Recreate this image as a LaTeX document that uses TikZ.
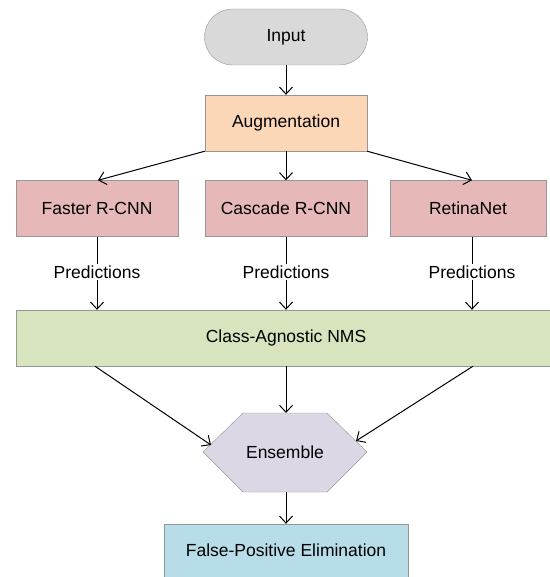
\documentclass[tikz,border=0pt]{standalone}
\usepackage{fontspec}
\setmainfont{Liberation Sans}
\usetikzlibrary{arrows.meta}
\definecolor{inputgray}{HTML}{D9D9D9}
\definecolor{augpeach}{HTML}{FBD6B7}
\definecolor{modelred}{HTML}{E6B9B8}
\definecolor{nmsgreen}{HTML}{D7E4BD}
\definecolor{enspurple}{HTML}{DCD7E5}
\definecolor{fpblue}{HTML}{B7DDE8}
\definecolor{edgegray}{HTML}{969696}
\begin{document}
\begin{tikzpicture}[x=1pt, y=-1pt,
        every node/.style={font=\fontsize{17.5}{20}\selectfont},
        stepbox/.style={rectangle, draw=edgegray, inner sep=0pt, minimum height=56pt},
        model/.style={stepbox, fill=modelred, minimum width=162pt},
        plain/.style={inner sep=1pt},
        arrow/.style={-{Straight Barb[length=7pt, width=13pt]}, line width=1pt},
        link/.style={line width=1pt}
    ]
        \useasboundingbox (0,0) rectangle (549,577);

        % Input and augmentation
        \node[stepbox, fill=inputgray, rounded corners=28pt, minimum width=163pt] (input) at (286,37) {Input};
        \node[stepbox, fill=augpeach, minimum width=162pt] (aug) at (286,123) {Augmentation};

        % Detectors
        \node[model] (faster) at (97,208.5) {Faster R-CNN};
        \node[model] (cascade) at (286,208.5) {Cascade R-CNN};
        \node[model, minimum width=156pt] (retina) at (468,208.5) {RetinaNet};

        % Predictions
        \node[plain] (pf) at (97,272) {Predictions};
        \node[plain] (pc) at (286,272) {Predictions};
        \node[plain] (pr) at (472,272) {Predictions};

        % NMS
        \node[stepbox, fill=nmsgreen, minimum width=560pt, anchor=west] (nms) at (16,338) {};
        \node (nmstext) at (286,338) {Class-Agnostic NMS};

        % Ensemble
        \draw[draw=edgegray, fill=enspurple] (203,452) -- (243,413) -- (327,413) -- (367,452) -- (327,492) -- (243,492) -- cycle;
        \node (ens) at (285,452) {Ensemble};
        \coordinate (enstop) at (286,413);
        \coordinate (ensleft) at (211,445);
        \coordinate (ensright) at (356,441);
        \coordinate (ensbottom) at (286,492);

        % False positives
        \node[stepbox, fill=fpblue, minimum width=244pt, minimum height=60pt] (fp) at (286,554) {\raisebox{7pt}{False-Positive Elimination}};

        % Arrows
        \draw[arrow] (input) -- (aug);
        \draw[arrow] (aug.south west) -- (faster.north -| 98,0);
        \draw[arrow] (aug) -- (cascade);
        \draw[arrow] (aug.south east) -- (retina.north -| 472,0);
        \draw[link] (faster.south) -- (pf.north);
        \draw[link] (cascade.south) -- (pc.north);
        \draw[link] (pr.north |- retina.south) -- (pr.north);
        \draw[arrow] (pf.south) -- (pf.south |- nms.north);
        \draw[arrow] (pc.south) -- (pc.south |- nms.north);
        \draw[arrow] (pr.south) -- (pr.south |- nms.north);
        \draw[arrow] (95,0 |- nms.south) -- (ensleft);
        \draw[arrow] (nmstext.center |- nms.south) -- (enstop);
        \draw[arrow] (473,0 |- nms.south) -- (ensright);
        \draw[arrow] (ensbottom) -- (fp);
    \end{tikzpicture}
\end{document}
